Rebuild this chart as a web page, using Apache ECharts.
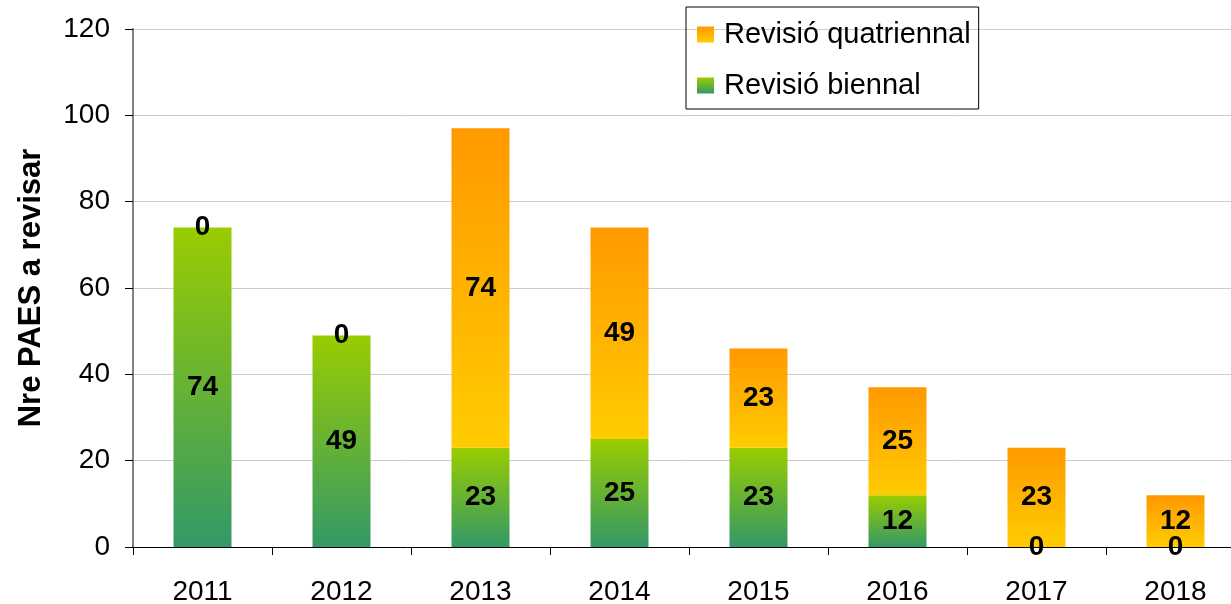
<!DOCTYPE html>
<html>
<head>
<meta charset="utf-8">
<script src="https://cdn.jsdelivr.net/npm/echarts@6/dist/echarts.min.js"></script>
<style>
  html, body { margin: 0; padding: 0; background: #fff; }
  #main { width: 1231px; height: 604px; }
</style>
</head>
<body>
<div id="main"></div>
<script>
var years = ['2011', '2012', '2013', '2014', '2015', '2016', '2017', '2018'];
var biennal = [74, 49, 23, 25, 23, 12, 0, 0];
var quatriennal = [0, 0, 74, 49, 23, 25, 23, 12];

var greenGrad = new echarts.graphic.LinearGradient(0, 0, 0, 1, [
    { offset: 0, color: '#99cc00' },
    { offset: 1, color: '#339966' }
]);
var orangeGrad = new echarts.graphic.LinearGradient(0, 0, 0, 1, [
    { offset: 0, color: '#ff9900' },
    { offset: 1, color: '#ffcc00' }
]);

var labelStyle = {
    show: true,
    position: 'inside',
    color: '#000',
    fontSize: 28,
    fontWeight: 'bold',
    fontFamily: 'Liberation Sans, Arial, sans-serif'
};

var myChart = echarts.init(document.getElementById('main'));
option = {
    animation: false,
    textStyle: { fontFamily: 'Liberation Sans, Arial, sans-serif' },
    legend: {
        orient: 'vertical',
        left: 686,
        top: 7,
        data: ['Revisió quatriennal', 'Revisió biennal'],
        icon: 'rect',
        itemWidth: 17,
        itemHeight: 16,
        itemGap: 22,
        padding: [13, 8, 9, 11],
        borderColor: '#000',
        borderWidth: 1,
        textStyle: { fontSize: 29, color: '#000', padding: [0, 0, 0, 5] }
    },
    grid: {
        left: 133,
        right: -14,
        top: 29,
        bottom: 57,
        outerBoundsMode: 'none'
    },
    xAxis: {
        type: 'category',
        data: years,
        axisLine: { lineStyle: { color: '#000', width: 1 } },
        axisTick: { show: true, length: 8, lineStyle: { color: '#000' } },
        axisLabel: { fontSize: 28, color: '#000', margin: 31 }
    },
    yAxis: {
        type: 'value',
        min: 0,
        max: 120,
        interval: 20,
        name: 'Nre PAES a revisar',
        nameLocation: 'middle',
        nameGap: 86,
        nameTextStyle: { fontSize: 31, fontWeight: 'bold', color: '#000' },
        axisLine: { show: true, lineStyle: { color: '#808080', width: 2 } },
        axisTick: { show: true, length: 8, lineStyle: { color: '#000' } },
        axisLabel: { fontSize: 28, color: '#000', margin: 23 },
        splitLine: { lineStyle: { color: '#cccccc', width: 1 } }
    },
    series: [
        {
            name: 'Revisió biennal',
            type: 'bar',
            stack: 'Total',
            barWidth: 58,
            data: biennal,
            itemStyle: { color: greenGrad },
            label: labelStyle
        },
        {
            name: 'Revisió quatriennal',
            type: 'bar',
            stack: 'Total',
            barWidth: 58,
            data: quatriennal,
            itemStyle: { color: orangeGrad },
            label: labelStyle
        }
    ]
};
myChart.setOption(option);
</script>
</body>
</html>
